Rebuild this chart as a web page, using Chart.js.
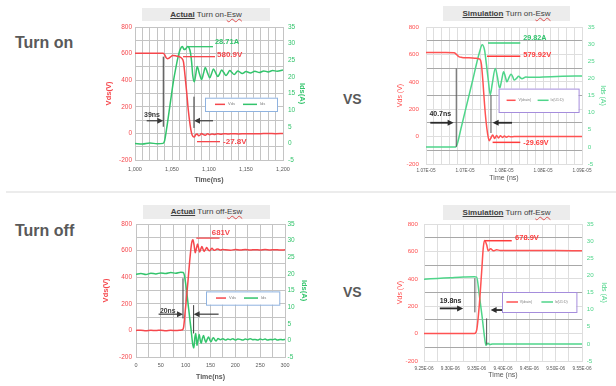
<!DOCTYPE html>
<html>
<head>
<meta charset="utf-8">
<script src="https://cdn.jsdelivr.net/npm/chart.js@4.4.0/dist/chart.umd.min.js"></script>
<style>
  body { margin: 0; width: 616px; height: 386px; background: #fff; position: relative; overflow: hidden; font-family: "Liberation Sans", Arial, sans-serif; }
  .wrap { position: absolute; }
  .side { position: absolute; left: 15px; font-size: 16px; line-height: 16px; font-weight: bold; color: #595959; }
  .vs { position: absolute; left: 343px; font-size: 14px; line-height: 14px; font-weight: bold; color: #595959; }
  .ttl { position: absolute; background: #ececec; font-size: 8px; color: #404040; text-align: center; white-space: nowrap; }
  .ttl b { text-decoration: underline; }
  .ttl .esw { text-decoration: underline wavy #e05050; text-decoration-thickness: 1px; }
  .sep { position: absolute; left: 6px; right: 0; top: 191px; height: 2px; background: #ececec; }
</style>
</head>
<body>
<div class="side" style="top:35px">Turn on</div>
<div class="side" style="top:223px">Turn off</div>
<div class="vs" style="top:92px">VS</div>
<div class="vs" style="top:285px">VS</div>
<div class="sep"></div>

<div class="ttl" style="left:142px;top:8px;width:128px;height:13px;line-height:13px"><b>Actual</b> Turn on-<span class="esw">Esw</span></div>
<div class="ttl" style="left:443px;top:6px;width:127px;height:15px;line-height:15px"><b>Simulation</b> Turn on-<span class="esw">Esw</span></div>
<div class="ttl" style="left:143px;top:205px;width:127px;height:14px;line-height:14px"><b>Actual</b> Turn off-<span class="esw">Esw</span></div>
<div class="ttl" style="left:443px;top:205px;width:127px;height:15px;line-height:15px"><b>Simulation</b> Turn off-<span class="esw">Esw</span></div>

<div class="wrap" style="left:100px;top:0px"><canvas id="onAct" width="210" height="190"></canvas></div>
<div class="wrap" style="left:360px;top:0px"><canvas id="onSim" width="256" height="190"></canvas></div>
<div class="wrap" style="left:100px;top:195px"><canvas id="offAct" width="210" height="191"></canvas></div>
<div class="wrap" style="left:360px;top:195px"><canvas id="offSim" width="256" height="191"></canvas></div>

<script>
// time in ns, Vds in V, Ids in A

// Actual turn on
const onActVdsT = [1000, 1020, 1038, 1040, 1042, 1044, 1046, 1048, 1051, 1055,
                   1059, 1063, 1065.5, 1067.5, 1070, 1072, 1074.5, 1076.5, 1078, 1080,
                   1082, 1084, 1086, 1088, 1090, 1092, 1095, 1098, 1101, 1104,
                   1108, 1112, 1116, 1120, 1126, 1132, 1140, 1150, 1160, 1170,
                   1180, 1190, 1200];
const onActVds = [603, 603, 602, 592, 570, 562, 566, 575, 585, 583,
                  578, 566, 538, 440, 300, 176, 63, 0, -20, -28,
                  -10, -5, -18, -12, 0, -8, -14, -2, -10, -4,
                  -8, -2, -6, -2, -5, -2, -4, -2, -3, -2,
                  -1, -2, -1];
const onActIdsT = [1000, 1010, 1020, 1030, 1038, 1040, 1043, 1046, 1049, 1052,
                   1055, 1058, 1061, 1064, 1066.5, 1068.5, 1071, 1073, 1075, 1076.5,
                   1078, 1080, 1082, 1084, 1087, 1090, 1092.5, 1095, 1098, 1101,
                   1103.5, 1106, 1109, 1112, 1114.5, 1117, 1120, 1123, 1125.5, 1128,
                   1131, 1134, 1139, 1145, 1150, 1156, 1162, 1168, 1174, 1180,
                   1186, 1192, 1200];
const onActIds = [0, -0.2, 0.1, -0.1, 0, 0.8, 4.8, 9.5, 14.2, 18.8,
                  22.5, 25.8, 28.2, 29.1, 28.2, 28.4, 29.1, 28.8, 27.2, 24.5,
                  20.5, 18.5, 20.5, 23.1, 21, 19.2, 21, 22.8, 21.2, 19.7,
                  21, 22.4, 21.2, 20.1, 21, 22.1, 21.3, 20.4, 21.1, 21.9,
                  21.3, 20.7, 21.8, 21, 21.6, 21.2, 21.7, 21.3, 21.8, 21.5,
                  21.9, 21.7, 22.1];
const onActTicks = ['1,000', '1,050', '1,100', '1,150', '1,200'];

// Simulation turn on
const onSimVdsT = [10675, 10700, 10711, 10714, 10717, 10721, 10730, 10740, 10744, 10746,
                   10748, 10750, 10752, 10754, 10756, 10758, 10760.5, 10763, 10765.5, 10768,
                   10770.5, 10773, 10775.5, 10778, 10781, 10784, 10788, 10795, 10810, 10840,
                   10875];
const onSimVds = [613, 613, 612, 600, 584, 578, 575, 571, 566, 530,
                  400, 240, 110, 20, -30, -12, 12, -14, 8, -10,
                  6, -6, 4, -4, 2, -2, 1, 0, 0, 0,
                  0];
const onSimIdsT = [10675, 10700, 10713, 10715, 10720, 10725, 10730, 10735, 10740, 10744,
                   10747, 10750, 10752.5, 10755, 10757.4, 10760, 10763.8, 10766.5, 10769.4, 10772,
                   10774.5, 10776.5, 10778.8, 10781.5, 10784, 10786, 10788, 10791, 10793.7, 10796,
                   10798, 10803, 10810, 10825, 10850, 10875];
const onSimIds = [0, 0, 0, 0.8, 5.5, 10.2, 14.9, 19.6, 24.5, 28,
                  29.8, 28.3, 24, 19.2, 15.2, 18.5, 22.9, 20.5, 17.1, 19.5,
                  21.9, 20.7, 19, 20.3, 21.2, 20.6, 19.5, 20, 20.6, 20.2,
                  19.9, 20.4, 20.3, 20.4, 20.6, 20.7];
const onSimTicks = ['1.07E-05', '1.07E-05', '1.08E-05', '1.08E-05', '1.09E-05'];

// Actual turn off
const offActVdsT = [0, 10, 20, 30, 40, 50, 60, 70, 80, 90,
                    94, 96, 99, 104, 108, 112, 114.6, 117, 119.3, 121.5,
                    124, 126, 128, 130.5, 132.6, 135, 137, 140, 142.5, 145,
                    148, 150.5, 153, 156, 158.6, 162, 165, 170, 175, 180,
                    190, 200, 210, 220, 230, 240, 250, 260, 270, 280,
                    290, 300];
const offActVds = [0, 2, -2, 1, -1, 2, -2, 1, -1, 2,
                   6, 27, 140, 341, 517, 656, 681, 640, 583, 615,
                   649, 620, 590, 612, 631, 610, 594, 610, 623, 608,
                   598, 608, 617, 606, 602, 610, 612, 604, 609, 606,
                   603, 608, 605, 609, 604, 607, 604, 608, 605, 607,
                   604, 606];
const offActIdsT = [0, 10, 20, 30, 40, 50, 60, 70, 80, 90,
                    95, 97.2, 101.2, 105.9, 110.6, 114.6, 116.5, 118.6, 120.5, 122.6,
                    125, 127.3, 129.3, 131.3, 133.5, 136, 138.5, 140.7, 143.5, 146,
                    149, 151.4, 154, 156, 159, 161.4, 165, 170, 175, 180,
                    185, 190, 195, 200, 205, 210, 215, 220, 225, 230,
                    235, 240, 245, 250, 255, 260, 265, 270, 275, 280,
                    285, 290, 295, 300];
const offActIds = [19.9, 20.1, 19.8, 20.2, 20, 20.3, 20.1, 20.4, 20.2, 20.5,
                   20.4, 19.7, 15.7, 9.6, 3.6, -1.5, -2.3, 1, 2.1, -1.5,
                   0.2, 1.8, 0.1, -0.9, 0.5, 1.5, 0.2, -0.6, 0.4, 1,
                   0, -0.4, 0.5, 0.8, 0.1, -0.2, 0.6, 0.2, 0.5, 0.1,
                   0.4, 0.2, 0.5, 0.1, 0.4, 0.3, 0.1, 0.4, 0.2, 0.5,
                   0.2, 0.3, 0.1, 0.4, 0.2, 0.4, 0.1, 0.3, 0.2, 0.4,
                   0.1, 0.3, 0.2, 0.3];
const offActTicks = ['0', '50', '100', '150', '200', '250', '300'];

// Simulation turn off
const offSimVdsT = [9250, 9300, 9346, 9350, 9355, 9359.5, 9362.5, 9365, 9369, 9372,
                    9376.5, 9381.5, 9388, 9395, 9420, 9450, 9500, 9550];
const offSimVds = [0, 0, 0, 25, 208, 453, 624, 679, 648, 604,
                   619, 604, 612, 607, 607, 606, 606, 605];
const offSimIdsT = [9250, 9275, 9300, 9325, 9346, 9350, 9355, 9360, 9364.5, 9367.6,
                    9371.5, 9375, 9380, 9400, 9450, 9500, 9550];
const offSimIds = [18.9, 19.1, 19.3, 19.5, 19.6, 19.5, 14.3, 8.4, 2.5, -0.4,
                   0.2, -0.2, 0, 0, 0, 0, 0];
const offSimTicks = ['9.25E-06', '9.30E-06', '9.35E-06', '9.40E-06', '9.45E-06', '9.50E-06', '9.55E-06'];

function pts(t, v) {
    return t.map((x, i) => ({ x: x, y: v[i] }));
}

// callouts, arrows and legend drawn on top of the plot
function notesPlugin(n) {
    return {
        id: 'notes',
        afterDatasetsDraw(chart) {
            const { ctx, chartArea, scales: { x, y } } = chart;
            const px = v => x.getPixelForValue(v);
            const py = v => y.getPixelForValue(v);
            ctx.save();
            n.lines.forEach(l => {
                ctx.strokeStyle = l.color;
                ctx.lineWidth = l.width;
                ctx.beginPath();
                ctx.moveTo(px(l.x1), py(l.y1));
                ctx.lineTo(px(l.x2), py(l.y2));
                ctx.stroke();
            });
            n.arrows.forEach(a => {
                const x1 = px(a.x1), x2 = px(a.x2), yy = py(a.y);
                const dir = x2 > x1 ? 1 : -1;
                ctx.strokeStyle = n.arrowColor;
                ctx.fillStyle = n.arrowColor;
                ctx.lineWidth = n.arrowWidth;
                ctx.beginPath();
                ctx.moveTo(x1, yy);
                ctx.lineTo(x2 - dir * 4, yy);
                ctx.stroke();
                ctx.beginPath();
                ctx.moveTo(x2, yy);
                ctx.lineTo(x2 - dir * 6, yy - 3);
                ctx.lineTo(x2 - dir * 6, yy + 3);
                ctx.closePath();
                ctx.fill();
            });
            n.texts.forEach(t => {
                ctx.font = 'bold ' + t.size + 'px "Liberation Sans", Arial, sans-serif';
                ctx.fillStyle = t.color;
                ctx.textAlign = t.align;
                ctx.textBaseline = 'middle';
                ctx.fillText(t.text, px(t.x), py(t.y));
            });
            // legend box
            const lg = n.legend;
            const lx = chartArea.left + lg.x, ly = chartArea.top + lg.y;
            ctx.fillStyle = '#fff';
            ctx.fillRect(lx, ly, lg.w, lg.h);
            ctx.strokeStyle = lg.border;
            ctx.lineWidth = 1;
            ctx.strokeRect(lx + 0.5, ly + 0.5, lg.w, lg.h);
            const cy = ly + lg.h / 2;
            ctx.font = lg.size + 'px "Liberation Sans", Arial, sans-serif';
            ctx.textAlign = 'left';
            ctx.textBaseline = 'middle';
            chart.data.datasets.forEach((ds, i) => {
                const s = lg.items[i];
                ctx.strokeStyle = ds.borderColor;
                ctx.lineWidth = 1.5;
                ctx.beginPath();
                ctx.moveTo(lx + s[0], cy);
                ctx.lineTo(lx + s[1], cy);
                ctx.stroke();
                ctx.fillStyle = '#808080';
                ctx.fillText(ds.label, lx + s[2], cy);
            });
            ctx.restore();
        }
    };
}

function renderChart(id, c) {
    const font = '"Liberation Sans", Arial, sans-serif';
    return new Chart(document.getElementById(id), {
        type: 'line',
        data: {
            datasets: [{
                label: c.vLabel,
                data: pts(c.vT, c.v),
                borderColor: c.red,
                yAxisID: 'y'
            }, {
                label: c.iLabel,
                data: pts(c.iT, c.i),
                borderColor: c.green,
                yAxisID: 'y1'
            }]
        },
        options: {
            responsive: false,
            animation: false,
            devicePixelRatio: 1,
            layout: { padding: c.pad },
            elements: {
                point: { radius: 0 },
                line: { borderWidth: 1.5, cubicInterpolationMode: 'monotone' }
            },
            plugins: { legend: { display: false }, tooltip: { enabled: false } },
            scales: {
                x: {
                    type: 'linear',
                    min: c.xMin, max: c.xMax,
                    afterFit: s => { s.height = c.xH; },
                    grid: { color: c.gridLight, drawTicks: false },
                    border: { color: c.gridLight },
                    ticks: {
                        stepSize: c.xStep, autoSkip: false, maxRotation: 0, minRotation: 0,
                        padding: c.xTickPad, color: '#595959',
                        font: { family: font, size: c.xTickSize },
                        callback: (v, i) => i % c.xEvery === 0 ? c.xLabels[i / c.xEvery] : ''
                    },
                    title: {
                        display: true, text: c.xTitle, color: '#595959',
                        font: { family: font, size: c.xTitleSize, weight: c.titleWeight },
                        padding: { top: 0, bottom: c.xTitlePad }
                    }
                },
                y: {
                    position: 'left',
                    min: -200, max: 800,
                    afterFit: s => { s.width = c.yW; },
                    grid: {
                        drawTicks: false,
                        color: ctx => (ctx.tick && ctx.tick.value % 200 !== 0) ? c.gridOdd : c.gridLight
                    },
                    border: { color: c.gridLight },
                    ticks: {
                        stepSize: 100, padding: c.yTickPad, color: c.red,
                        font: { family: font, size: c.yTickSize },
                        callback: v => v % 200 === 0 ? String(v) : ''
                    },
                    title: {
                        display: true, text: c.yTitle, color: c.red,
                        font: { family: font, size: c.yTitleSize, weight: c.titleWeight },
                        padding: { top: c.yTitlePad, bottom: 0 }
                    }
                },
                y1: {
                    position: 'right',
                    min: -5, max: 35,
                    afterFit: s => { s.width = c.y1W; },
                    grid: { drawOnChartArea: false, drawTicks: false },
                    border: { color: c.gridLight },
                    ticks: {
                        stepSize: 5, padding: c.y1TickPad, color: c.green,
                        font: { family: font, size: c.yTickSize }
                    },
                    title: {
                        display: true, text: c.y1Title, color: c.green,
                        font: { family: font, size: c.yTitleSize, weight: c.titleWeight },
                        padding: { top: c.y1TitlePad, bottom: 0 }
                    }
                }
            }
        },
        plugins: [notesPlugin(c.notes)]
    });
}

const actStyle = {
    red: '#f5474c', green: '#33c46c', gridLight: '#c4c4c4', gridOdd: '#c4c4c4',
    vLabel: 'Vds', iLabel: 'Ids', xTitle: 'Time(ns)', yTitle: 'Vds(V)', y1Title: 'Ids(A)',
    titleWeight: 'bold', xTickSize: 5.5, yTickSize: 6.5, xTitleSize: 7, yTitleSize: 7.5
};
const simStyle = {
    red: '#ff5252', green: '#4fd58a', gridLight: '#dedede', gridOdd: '#a8a8a8',
    vLabel: 'V(drain)', iLabel: 'Ix(U1:D)', xTitle: 'Time (ns)', yTitle: 'Vds (V)', y1Title: 'Ids (A)',
    titleWeight: 'normal', xTickSize: 4.7, yTickSize: 6.2, xTitleSize: 7, yTitleSize: 7
};

renderChart('onAct', Object.assign({}, actStyle, {
    vT: onActVdsT, v: onActVds, iT: onActIdsT, i: onActIds,
    xMin: 1000, xMax: 1200, xStep: 10, xEvery: 5, xLabels: onActTicks,
    pad: { top: 27, left: 0, right: 0, bottom: 0 },
    yW: 35, y1W: 27, xH: 30,
    yTickPad: 3, y1TickPad: 5, xTickPad: 6, yTitlePad: 4.5, y1TitlePad: 3.5, xTitlePad: 5.5,
    notes: {
        arrowColor: '#3a3a3a', arrowWidth: 1.2,
        lines: [
            { x1: 1071.6, y1: 652, x2: 1105.4, y2: 652, color: '#33c46c', width: 1.3 },
            { x1: 1064.9, y1: 577, x2: 1108.1, y2: 577, color: '#f5474c', width: 1.3 },
            { x1: 1083.8, y1: -62, x2: 1114.9, y2: -62, color: '#f5474c', width: 1.3 },
            { x1: 1038.2, y1: 577, x2: 1038.2, y2: 50, color: '#3a3a3a', width: 1 },
            { x1: 1079.7, y1: 276, x2: 1079.7, y2: 41, color: '#3a3a3a', width: 1 }
        ],
        arrows: [
            { x1: 1015.8, x2: 1038.2, y: 95 },
            { x1: 1105.4, x2: 1079.7, y: 95 }
        ],
        texts: [
            { text: '28.71A', x: 1108, y: 689, color: '#33c46c', size: 7.5, align: 'left' },
            { text: '580.9V', x: 1110.8, y: 590, color: '#f5474c', size: 8, align: 'left' },
            { text: '-27.8V', x: 1119, y: -65, color: '#f5474c', size: 8, align: 'left' },
            { text: '39ns', x: 1023, y: 138, color: '#3a3a3a', size: 7, align: 'center' }
        ],
        legend: { x: 70, y: 70.7, w: 72, h: 13.3, border: '#8fb3e0', size: 4, items: [[10, 20, 23], [38, 52, 55]] }
    }
}));

renderChart('onSim', Object.assign({}, simStyle, {
    vT: onSimVdsT, v: onSimVds, iT: onSimIdsT, i: onSimIds,
    xMin: 10675, xMax: 10875, xStep: 10, xEvery: 5, xLabels: onSimTicks,
    pad: { top: 27, left: 31, right: 4, bottom: 3 },
    yW: 35, y1W: 30, xH: 23,
    yTickPad: 7, y1TickPad: 5.7, xTickPad: 4, yTitlePad: 5, y1TitlePad: 4.5, xTitlePad: 4.5,
    notes: {
        arrowColor: '#2b2b2b', arrowWidth: 1.8,
        lines: [
            { x1: 10754.5, y1: 683.5, x2: 10795.9, y2: 683.5, color: '#3ccf7a', width: 1.5 },
            { x1: 10753.2, y1: 586.6, x2: 10795.9, y2: 586.6, color: '#ff3b3b', width: 1.5 },
            { x1: 10760.4, y1: -42, x2: 10795.9, y2: -42, color: '#ff3b3b', width: 1.5 },
            { x1: 10713.8, y1: 497, x2: 10713.8, y2: -74, color: '#555', width: 1 },
            { x1: 10758.3, y1: 302, x2: 10758.3, y2: 26, color: '#555', width: 1 }
        ],
        arrows: [
            { x1: 10680.5, x2: 10710.4, y: 101 },
            { x1: 10785.3, x2: 10760.4, y: 101 }
        ],
        texts: [
            { text: '29.82A', x: 10799.7, y: 717.7, color: '#2fc46c', size: 7.2, align: 'left' },
            { text: '579.92V', x: 10799.7, y: 594, color: '#ff3b3b', size: 7.5, align: 'left' },
            { text: '-29.69V', x: 10799.7, y: -49, color: '#ff3b3b', size: 7.2, align: 'left' },
            { text: '40.7ns', x: 10693.3, y: 162, color: '#2b2b2b', size: 7, align: 'center' }
        ],
        legend: { x: 72.6, y: 61.6, w: 80, h: 23.4, border: '#a58ddc', size: 3.5, items: [[8, 17, 20], [39, 50, 52]] }
    }
}));

renderChart('offAct', Object.assign({}, actStyle, {
    vT: offActVdsT, v: offActVds, iT: offActIdsT, i: offActIds,
    xMin: 0, xMax: 300, xStep: 25, xEvery: 2, xLabels: offActTicks,
    pad: { top: 29, left: 0, right: 0, bottom: 0 },
    yW: 36, y1W: 25, xH: 29,
    yTickPad: 4, y1TickPad: 2.5, xTickPad: 5, yTitlePad: 1, y1TitlePad: 1.5, xTitlePad: 5,
    notes: {
        arrowColor: '#3a3a3a', arrowWidth: 1.2,
        lines: [
            { x1: 121.4, y1: 694, x2: 168.3, y2: 694, color: '#f5474c', width: 1.3 },
            { x1: 94.6, y1: 392, x2: 94.6, y2: 90, color: '#3a3a3a', width: 1 },
            { x1: 116, y1: 190, x2: 116, y2: -23, color: '#3a3a3a', width: 1 }
        ],
        arrows: [
            { x1: 45.5, x2: 94.6, y: 122 },
            { x1: 166.3, x2: 116, y: 122 }
        ],
        texts: [
            { text: '681V', x: 171, y: 732, color: '#f5474c', size: 7.8, align: 'center' },
            { text: '20ns', x: 64, y: 145, color: '#3a3a3a', size: 6.8, align: 'center' }
        ],
        legend: { x: 70, y: 67.4, w: 73.3, h: 13.3, border: '#8fb3e0', size: 4, items: [[10, 20, 23], [38, 52, 55]] }
    }
}));

renderChart('offSim', Object.assign({}, simStyle, {
    vT: offSimVdsT, v: offSimVds, iT: offSimIdsT, i: offSimIds,
    xMin: 9250, xMax: 9550, xStep: 25, xEvery: 2, xLabels: offSimTicks,
    pad: { top: 29, left: 29, right: 4, bottom: 2 },
    yW: 35, y1W: 30, xH: 23,
    yTickPad: 6, y1TickPad: 4.7, xTickPad: 5, yTitlePad: 6.8, y1TitlePad: 3.5, xTitlePad: 4.8,
    notes: {
        arrowColor: '#2b2b2b', arrowWidth: 1.8,
        lines: [
            { x1: 9365.7, y1: 678, x2: 9416.6, y2: 678, color: '#ff3b3b', width: 1.5 },
            { x1: 9346.6, y1: 404, x2: 9346.6, y2: 155, color: '#555', width: 1 },
            { x1: 9368.9, y1: 111, x2: 9368.9, y2: -80, color: '#555', width: 1 }
        ],
        arrows: [
            { x1: 9280, x2: 9324.3, y: 184 },
            { x1: 9422.9, x2: 9376.5, y: 172 }
        ],
        texts: [
            { text: '678.9V', x: 9422.9, y: 697, color: '#ff3b3b', size: 7.5, align: 'left' },
            { text: '19.8ns', x: 9300.5, y: 238, color: '#2b2b2b', size: 7, align: 'center' }
        ],
        legend: { x: 78, y: 68, w: 74.4, h: 20, border: '#a58ddc', size: 3.5, items: [[4.4, 16, 17.7], [39.4, 51, 52.7]] }
    }
}));
</script>
</body>
</html>
